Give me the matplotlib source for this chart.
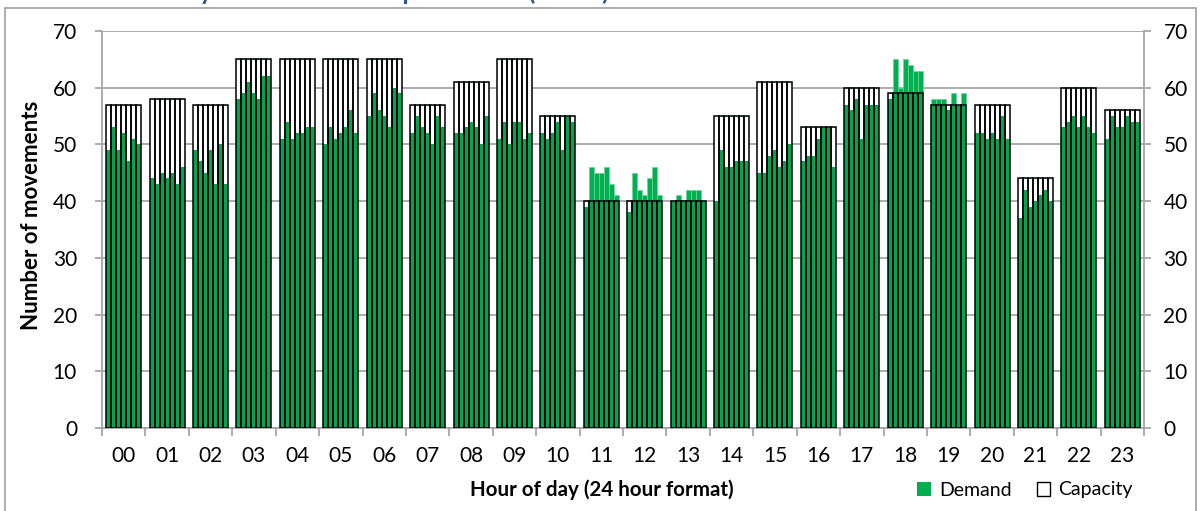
import matplotlib
matplotlib.use("Agg")
import matplotlib.pyplot as plt
from matplotlib.patches import Patch, Rectangle
import numpy as np

plt.rcParams['font.family'] = ['Lato', 'DejaVu Sans']

hours = ["00", "01", "02", "03", "04", "05", "06", "07", "08", "09", "10", "11",
         "12", "13", "14", "15", "16", "17", "18", "19", "20", "21", "22", "23"]

capacity = [57, 58, 57, 65, 65, 65, 65, 57, 61, 65, 55, 40,
            40, 40, 55, 61, 53, 60, 59, 57, 57, 44, 60, 56]

# demand per hour for each of the 7 days
demand_day1 = [49, 44, 49, 58, 51, 50, 55, 52, 52, 51, 52, 39, 38, 40, 40, 45, 47, 57, 58, 58, 52, 37, 53, 51]
demand_day2 = [53, 43, 47, 59, 54, 53, 59, 55, 52, 54, 51, 46, 45, 41, 49, 45, 48, 56, 65, 58, 52, 42, 54, 55]
demand_day3 = [49, 45, 45, 61, 51, 51, 56, 53, 53, 50, 52, 45, 42, 40, 46, 48, 48, 58, 60, 58, 51, 39, 55, 53]
demand_day4 = [52, 44, 49, 59, 52, 52, 55, 52, 54, 54, 54, 45, 41, 42, 46, 49, 51, 51, 65, 56, 52, 40, 53, 53]
demand_day5 = [47, 45, 43, 58, 52, 53, 53, 50, 53, 54, 49, 46, 44, 42, 47, 46, 53, 57, 64, 59, 51, 41, 55, 55]
demand_day6 = [51, 43, 50, 62, 53, 56, 60, 55, 50, 51, 55, 43, 46, 42, 47, 47, 53, 57, 63, 57, 55, 42, 53, 54]
demand_day7 = [50, 46, 43, 62, 53, 52, 59, 53, 55, 52, 54, 41, 41, 40, 47, 50, 46, 57, 63, 59, 51, 40, 52, 54]
demand_days = [demand_day1, demand_day2, demand_day3, demand_day4,
               demand_day5, demand_day6, demand_day7]

yticks = [0, 10, 20, 30, 40, 50, 60, 70]

GREEN_IN = '#00A54F'
GREEN_OUT = '#00B050'
GRID = '#A6A6A6'

W, H = 1200, 511
fig = plt.figure(figsize=(W / 100, H / 100), dpi=100)
ax = fig.add_axes([102 / W, 1 - 428 / H, (1144 - 102) / W, (428 - 31) / H])

x = np.arange(len(hours))
n = len(demand_days)
w = 35 / 43.43 / n
cap = np.array(capacity, dtype=float)

for j, dem in enumerate(demand_days):
    pos = x + (j - (n - 1) / 2) * w
    d = np.array(dem, dtype=float)
    inside = np.minimum(d, cap)
    excess = np.clip(d - cap, 0, None)
    ax.bar(pos, cap, width=w, color='white', edgecolor='none', zorder=2)
    ax.bar(pos, inside, width=w, color=GREEN_IN, edgecolor='none', zorder=3)
    ax.bar(pos, excess, bottom=cap, width=w, color=GREEN_OUT,
           edgecolor='#6FD49A', linewidth=0.5, zorder=3)
    ax.bar(pos, cap, width=w, facecolor='none', edgecolor='black',
           linewidth=1.1, zorder=4)

ax.set_xlim(-0.5, len(hours) - 0.5)
ax.set_ylim(0, 70)
ax.set_yticks(yticks)
ax.set_yticklabels([str(v) for v in yticks])
ax.set_xticks(x)
ax.set_xticklabels(hours)
ax.set_xticks(np.arange(-0.5, len(hours), 1.0), minor=True)

ax.yaxis.grid(True, color=GRID, linewidth=1.3, zorder=0)
ax.set_axisbelow(True)

for s in ['left', 'right', 'bottom']:
    ax.spines[s].set_color(GRID)
    ax.spines[s].set_linewidth(1.3)
ax.spines['top'].set_visible(False)

ax.tick_params(axis='y', which='major', left=True, right=False,
               direction='out', length=5, color=GRID,
               width=1.3, labelsize=15, pad=13)
ax.tick_params(axis='x', which='major', length=0, labelsize=15, pad=13)
ax.tick_params(axis='x', which='minor', length=6, direction='out',
               color=GRID, width=1.3)

ax2 = ax.twinx()
ax2.set_ylim(0, 70)
ax2.set_yticks(yticks)
ax2.set_yticklabels([str(v) for v in yticks])
ax2.tick_params(axis='y', right=True, direction='out', length=5, color=GRID,
                width=1.3, labelsize=15, pad=9)
for s in ax2.spines.values():
    s.set_visible(False)

fig.text(32 / W, 1 - 215 / H, "Number of movements", rotation=90,
         ha='center', va='center', fontsize=16, fontweight='bold')
fig.text(602 / W, 1 - 490 / H, "Hour of day (24 hour format)",
         ha='center', va='center', fontsize=14.8, fontweight='bold')

# title (mostly cut off at the top edge, as in the original)
fig.text(136 / W, 1.0, "Hourly movements compared with (ATMs)",
         ha='left', va='baseline', fontsize=18, fontweight='bold', color='#2F5597')

handles = [Patch(facecolor=GREEN_OUT, edgecolor='none', label='Demand'),
           Patch(facecolor='white', edgecolor='black', linewidth=1.0, label='Capacity')]
fig.legend(handles=handles, loc='center', bbox_to_anchor=(1025 / W, 1 - 490 / H),
           ncol=2, frameon=False, fontsize=14, handlelength=0.7, handleheight=0.7,
           columnspacing=1.3, handletextpad=0.4, borderaxespad=0)

fig.patches.append(Rectangle((5 / W, -0.02), (1196 - 5) / W, 1.02 - 7.5 / H,
                             transform=fig.transFigure, fill=False,
                             edgecolor='#A0A0A0', linewidth=1.2))

fig.savefig("out.png", dpi=100)
